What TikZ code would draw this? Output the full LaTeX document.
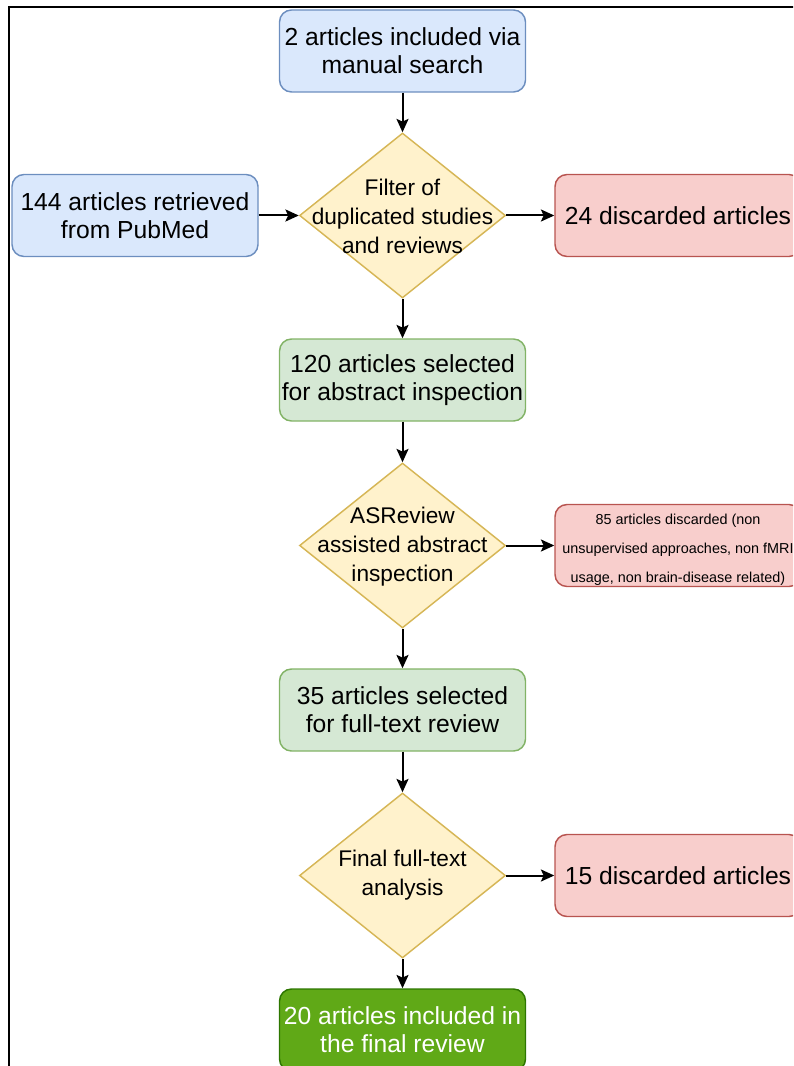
\documentclass[tikz,border=0pt]{standalone}
\usepackage{fontspec}
\setmainfont{Liberation Sans}
\usetikzlibrary{shapes.geometric,arrows.meta}
\definecolor{bfill}{HTML}{DAE8FC}\definecolor{bline}{HTML}{6C8EBF}
\definecolor{yfill}{HTML}{FFF2CC}\definecolor{yline}{HTML}{D6B656}
\definecolor{rfill}{HTML}{F8CECC}\definecolor{rline}{HTML}{B85450}
\definecolor{gfill}{HTML}{D5E8D4}\definecolor{gline}{HTML}{82B366}
\definecolor{dgfill}{HTML}{60A917}\definecolor{dgline}{HTML}{2D7600}
\tikzset{
  box/.style={draw, rounded corners=9pt, line width=1.1pt, minimum width=184.5pt, minimum height=61.5pt, inner sep=0pt, align=center, font=\fontsize{18.5}{21}\selectfont},
  bluebox/.style={box, fill=bfill, draw=bline},
  redbox/.style={box, fill=rfill, draw=rline},
  greenbox/.style={box, fill=gfill, draw=gline},
  finalbox/.style={box, fill=dgfill, draw=dgline, text=white},
  decision/.style={draw=yline, fill=yfill, diamond, line width=1.1pt, inner sep=0pt, minimum width=154.5pt, minimum height=123.75pt},
  dtext/.style={align=center, font=\fontsize{17}{21.75}\selectfont},
  conn/.style={line width=1.5pt, -{Stealth[length=10pt,width=9pt,inset=2pt]}},
}
\begin{document}
\begin{tikzpicture}[x=0.75pt,y=-0.75pt]
\useasboundingbox (0,0) rectangle (793,1066);
\clip (0,0) rectangle (793,1066);
\draw[line width=1.6pt] (9,1090) -- (9,7) -- (810,7);
\node[bluebox] (b1) at (402.5,51) {2 articles included via\\manual search};
\node[decision, label={[dtext, yshift=-1pt]center:{Filter of\\duplicated studies\\and reviews}}] (d1) at (402.5,215.5) {};
\node[bluebox] (pub) at (135,215.5) {144 articles retrieved\\from PubMed};
\node[redbox] (r1) at (678,215.5) {24 discarded articles};
\node[greenbox] (g1) at (402.5,380) {120 articles selected\\for abstract inspection};
\node[decision, label={[dtext, yshift=-1pt]center:{ASReview\\assisted abstract\\inspection}}] (d2) at (402.5,545.5) {};
\node[redbox, label={[align=center, font=\fontsize{10.8}{21.75}\selectfont, yshift=-3pt]center:{85 articles discarded (non\\unsupervised approaches, non fMRI\\usage, non brain-disease related)}}] (r2) at (678,545.5) {};
\node[greenbox] (g2) at (402.5,710) {35 articles selected\\for full-text review};
\node[decision, label={[dtext]center:{Final full-text\\analysis}}] (d3) at (402.5,875.5) {};
\node[redbox] (r3) at (678,875.5) {15 discarded articles};
\node[finalbox] (g3) at (402.5,1030) {20 articles included in\\the final review};
\draw[conn] (b1) -- (d1);
\draw[conn] (pub) -- (d1);
\draw[conn] (d1) -- (r1);
\draw[conn] (d1) -- (g1);
\draw[conn] (g1) -- (d2);
\draw[conn] (d2) -- (r2);
\draw[conn] (d2) -- (g2);
\draw[conn] (g2) -- (d3);
\draw[conn] (d3) -- (r3);
\draw[conn] (d3) -- (g3);
\end{tikzpicture}
\end{document}
